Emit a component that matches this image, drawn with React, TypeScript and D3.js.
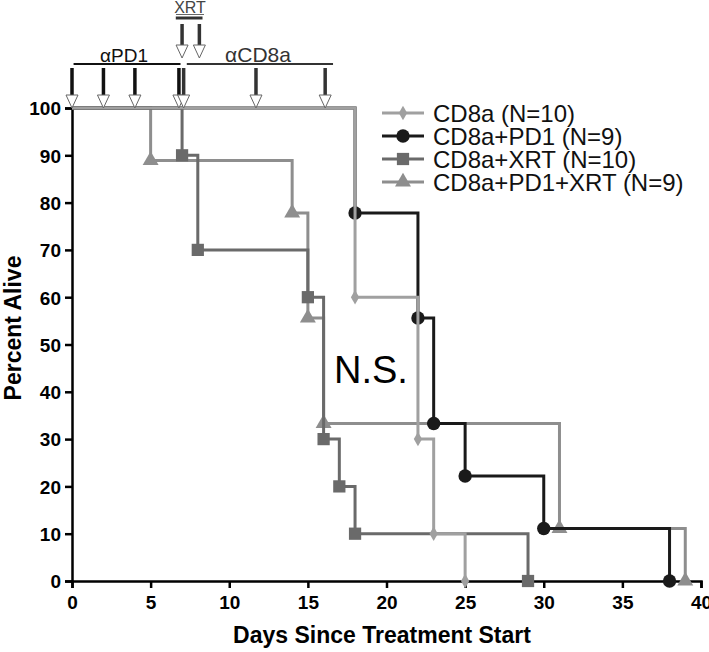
import React, { useEffect, useRef } from 'react';
import * as d3 from 'd3';

// Kaplan-Meier survival (days, percent alive)
const cd8aDays = [0, 18, 22, 23, 25];
const cd8aSurv = [100, 60, 30, 10, 0];
const pd1Days = [0, 18, 22, 23, 25, 30, 38];
const pd1Surv = [100, 77.8, 55.6, 33.3, 22.2, 11.1, 0];
const xrtDays = [0, 7, 8, 15, 16, 17, 18, 29];
const xrtSurv = [100, 90, 70, 60, 30, 20, 10, 0];
const pd1xrtDays = [0, 5, 14, 15, 16, 31, 39];
const pd1xrtSurv = [100, 88.9, 77.8, 55.6, 33.3, 11.1, 0];

const seriesNames = ['CD8a (N=10)', 'CD8a+PD1 (N=9)', 'CD8a+XRT (N=10)', 'CD8a+PD1+XRT (N=9)'];

// treatment schedule (days)
const antiPD1Doses = [0, 2, 4, 6.8];
const antiCD8Doses = [7.1, 11.7, 16.1];
const xrtDoses = [7, 8.1];

const xTicks = [0, 5, 10, 15, 20, 25, 30, 35, 40];
const yTicks = [0, 10, 20, 30, 40, 50, 60, 70, 80, 90, 100];

export default function App() {
  const ref = useRef<SVGSVGElement>(null);

  useEffect(() => {
    const svg = d3.select(ref.current);
    svg.selectAll('*').remove();

    const x = d3.scaleLinear().domain([0, 40]).range([72, 701]);
    const y = d3.scaleLinear().domain([0, 100]).range([581, 108]);
    const font = '"Liberation Sans", Arial, sans-serif';

    const zip = (ds: number[], ss: number[]) => ds.map((d, i) => ({ t: d, s: ss[i] }));
    const series = [
      { name: seriesNames[3], pts: zip(pd1xrtDays, pd1xrtSurv), color: '#8e8e8e', shape: d3.symbolTriangle, size: 110 },
      { name: seriesNames[2], pts: zip(xrtDays, xrtSurv), color: '#6a6a6a', shape: d3.symbolSquare, size: 150 },
      { name: seriesNames[1], pts: zip(pd1Days, pd1Surv), color: '#1a1a1a', shape: d3.symbolCircle, size: 140 },
      { name: seriesNames[0], pts: zip(cd8aDays, cd8aSurv), color: '#a0a0a0', shape: d3.symbolDiamond, size: 60 },
    ];

    // axes
    const yAxis = svg.append('g').attr('transform', 'translate(72,0)')
      .call(d3.axisLeft(y).tickValues(yTicks).tickSize(7).tickPadding(4));
    const xAxis = svg.append('g').attr('transform', 'translate(0,581)')
      .call(d3.axisBottom(x).tickValues(xTicks).tickSize(7).tickPadding(8));
    [yAxis, xAxis].forEach(a => {
      a.select('.domain').attr('stroke', '#000').attr('stroke-width', 2.5);
      a.selectAll('.tick line').attr('stroke', '#000').attr('stroke-width', 2.5);
      a.selectAll('.tick text').attr('fill', '#000').attr('font-family', font)
        .attr('font-weight', 'bold').attr('font-size', 19);
    });
    yAxis.selectAll('.tick text').attr('dy', '0.36em');

    svg.append('text').attr('x', 382).attr('y', 643).attr('text-anchor', 'middle')
      .attr('font-family', font).attr('font-weight', 'bold').attr('font-size', 23)
      .text('Days Since Treatment Start');
    svg.append('text').attr('transform', 'translate(21,328) rotate(-90)').attr('text-anchor', 'middle')
      .attr('font-family', font).attr('font-weight', 'bold').attr('font-size', 23)
      .text('Percent Alive');

    // survival curves
    const line = d3.line<{ t: number; s: number }>()
      .x(d => x(d.t)).y(d => y(d.s)).curve(d3.curveStepAfter);
    series.forEach(se => {
      svg.append('path').datum(se.pts).attr('fill', 'none')
        .attr('stroke', se.color).attr('stroke-width', 3).attr('d', line);
      svg.selectAll(null).data(se.pts.slice(1)).enter().append('path')
        .attr('transform', d => `translate(${x(d.t)},${y(d.s)})`)
        .attr('d', d3.symbol(se.shape, se.size)())
        .attr('fill', se.color);
    });

    svg.append('text').attr('x', 334).attr('y', 383).attr('font-family', font)
      .attr('font-size', 38).text('N.S.');

    // legend
    const leg = series.slice().reverse();
    leg.forEach((se, i) => {
      const cy = 113 + i * 23;
      svg.append('line').attr('x1', 382).attr('x2', 424).attr('y1', cy).attr('y2', cy)
        .attr('stroke', se.color).attr('stroke-width', 3);
      svg.append('path').attr('transform', `translate(403,${cy})`)
        .attr('d', d3.symbol(se.shape, se.size)()).attr('fill', se.color);
      svg.append('text').attr('x', 433).attr('y', cy + 8.5).attr('font-family', font)
        .attr('font-size', 24).attr('fill', '#111').text(se.name);
    });

    // treatment arrows
    const arrow = (day: number, top: number, shaftEnd: number, tip: number, col: string) => {
      const cx = x(day);
      svg.append('line').attr('x1', cx).attr('x2', cx).attr('y1', top).attr('y2', shaftEnd)
        .attr('stroke', col).attr('stroke-width', 3.5);
      svg.append('path')
        .attr('d', `M${cx - 6},${shaftEnd} L${cx + 6},${shaftEnd} L${cx},${tip} Z`)
        .attr('fill', '#fff').attr('stroke', '#666').attr('stroke-width', 1);
    };
    antiPD1Doses.forEach(d => arrow(d, 68, 95, 108, '#111'));
    antiCD8Doses.forEach(d => arrow(d, 68, 95, 108, '#333'));
    xrtDoses.forEach(d => arrow(d, 24, 45, 58, '#333'));

    svg.append('line').attr('x1', x(0.1)).attr('x2', x(6.9)).attr('y1', 64).attr('y2', 64)
      .attr('stroke', '#111').attr('stroke-width', 2);
    svg.append('line').attr('x1', x(7.3)).attr('x2', x(16.6)).attr('y1', 64).attr('y2', 64)
      .attr('stroke', '#333').attr('stroke-width', 2);
    svg.append('line').attr('x1', x(6.6)).attr('x2', x(8.3)).attr('y1', 18).attr('y2', 18)
      .attr('stroke', '#333').attr('stroke-width', 3);

    svg.append('text').attr('x', 124).attr('y', 62).attr('text-anchor', 'middle')
      .attr('font-family', font).attr('font-size', 19).attr('fill', '#111').text('\u03b1PD1');
    svg.append('text').attr('x', 258).attr('y', 62).attr('text-anchor', 'middle')
      .attr('font-family', font).attr('font-size', 21).attr('fill', '#333').text('\u03b1CD8a');
    svg.append('text').attr('x', 190).attr('y', 13).attr('text-anchor', 'middle')
      .attr('font-family', font).attr('font-size', 16).attr('fill', '#444').text('XRT');
    svg.append('line').attr('x1', 176).attr('x2', 204).attr('y1', 14.5).attr('y2', 14.5)
      .attr('stroke', '#666').attr('stroke-width', 1);
  }, []);

  return (
    <div style={{ position: 'absolute', left: 0, top: 0 }}>
      <svg ref={ref} width={709} height={652} style={{ display: 'block', background: '#fff' }} />
    </div>
  );
}
